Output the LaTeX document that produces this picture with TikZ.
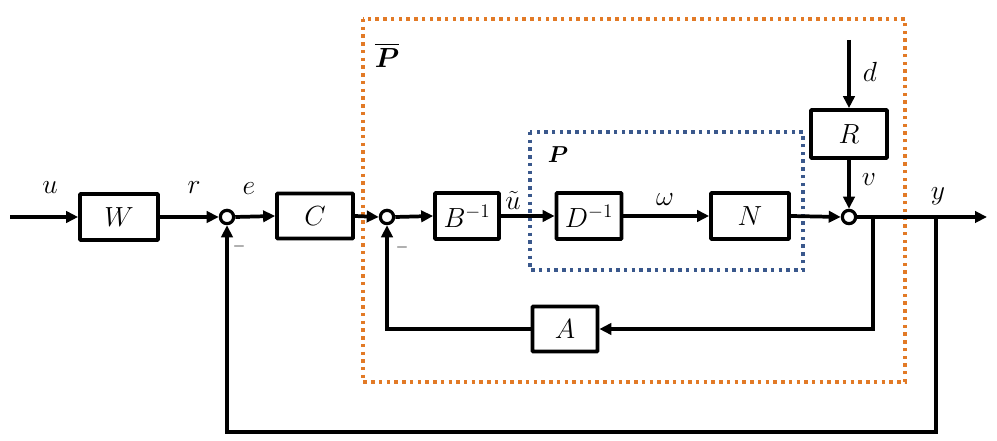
\documentclass[tikz,border=0pt]{standalone}
\usepackage{amsmath}
\usetikzlibrary{arrows.meta}
\definecolor{orng}{RGB}{226,122,38}
\definecolor{blu}{RGB}{58,88,140}
\begin{document}
\begin{tikzpicture}[x=0.75pt,y=-0.75pt,
  line width=2.8pt,
  font=\fontsize{22}{25}\selectfont,
  blk/.style={draw,line width=2.8pt,rectangle,rounded corners=0.6pt,inner sep=0pt},
  sumc/.style={draw,circle,line width=2.4pt,minimum size=10pt,inner sep=0pt,fill=white},
  arr/.style={-{Triangle[length=9pt,width=8.5pt]}},
  lab/.style={inner sep=0pt},
  dotbox/.style={line width=2.6pt,dash pattern=on 2.6pt off 3.2pt}]
\useasboundingbox (0,0) rectangle (997,441);
% dotted boxes
\draw[dotbox,orng] (363,19) rectangle (905,382);
\draw[dotbox,blu] (530,132) rectangle (803,270);
\node[lab,font=\fontsize{20}{22}\selectfont] (pbar) at (387,55) {$\overline{\boldsymbol{P}}$};
\node[lab,font=\fontsize{16}{18}\selectfont] (plab) at (558,155) {$\boldsymbol{P}$};
% blocks
\node[blk,minimum width={78*0.75pt},minimum height={46*0.75pt}] (W) at (119,217) {$W$};
\node[blk,minimum width={76*0.75pt},minimum height={45*0.75pt}] (C) at (315,216) {$C$};
\node[blk,minimum width={64*0.75pt},minimum height={46*0.75pt}] (B) at (467,216) {$B^{-1}$};
\node[blk,minimum width={65*0.75pt},minimum height={46*0.75pt}] (D) at (589,216) {$D^{-1}$};
\node[blk,minimum width={78*0.75pt},minimum height={46*0.75pt}] (N) at (750,216) {$N$};
\node[blk,minimum width={76*0.75pt},minimum height={48*0.75pt}] (R) at (849,134) {$R$};
\node[blk,minimum width={65*0.75pt},minimum height={45*0.75pt}] (A) at (565,329) {$A$};
% summing junctions
\node[sumc] (s1) at (227,217) {};
\node[sumc] (s2) at (387,217) {};
\node[sumc] (s3) at (849,217) {};
% coordinates
\coordinate (uin) at (10,217);
\coordinate (yout) at (987,217);
\coordinate (din) at (849,40);
\coordinate (b1) at (873,217);
\coordinate (b2) at (936,217);
\coordinate (bot) at (936,432);
% connectors
\draw[arr] (uin) -- (W.west);
\draw[arr] (W.east) -- (s1.west);
\draw[arr] (s1.east) -- (C.west);
\draw[arr] (C.east) -- (s2.west);
\draw[arr] (s2.east) -- (B.west);
\draw[arr] (B.east) -- (D.west);
\draw[arr] (D.east) -- (N.west);
\draw[arr] (N.east) -- (s3.west);
\draw[arr] (din) -- (R.north);
\draw[arr] (R.south) -- (s3.north);
\draw[arr] (s3.east) -- (yout);
\draw[arr] (b1) |- (A.east);
\draw[arr] (A.west) -| (s2.south);
\draw[arr] (b2) -- (bot) -| (s1.south);
% labels
\node[lab] (lu) at (50,188) {$u$};
\node[lab] (lr) at (194,188) {$r$};
\node[lab] (le) at (249,189) {$e$};
\node[lab] (lut) at (513,200) {$\tilde{u}$};
\node[lab] (lw) at (665,200) {$\omega$};
\node[lab] (ld) at (870,72) {$d$};
\node[lab] (lv) at (869,180) {$v$};
\node[lab] (ly) at (938,196) {$y$};
\node[lab,font=\fontsize{13}{15}\selectfont] (m1) at (239,247) {$-$};
\node[lab,font=\fontsize{13}{15}\selectfont] (m2) at (402,248) {$-$};
\end{tikzpicture}
\end{document}
